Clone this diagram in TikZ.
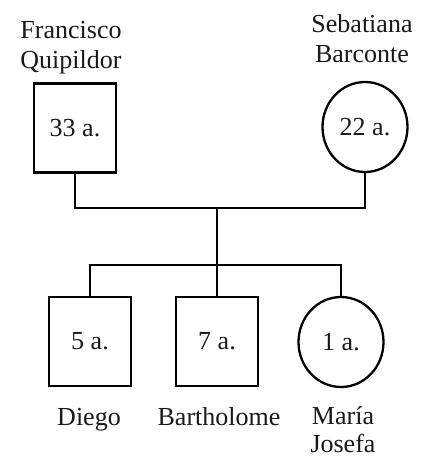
\documentclass[tikz,border=0pt]{standalone}
\usepackage{fontspec}
\setmainfont{Liberation Serif}
\usetikzlibrary{shapes.geometric}
\begin{document}
\begin{tikzpicture}[x=1pt,y=-1pt,
  line width=2.3pt,
  txt/.style={font=\fontsize{26}{30}\selectfont, text=black!90, inner sep=0pt, align=center},
  male/.style={draw, rectangle, minimum width=82pt, minimum height=89pt, inner sep=0pt, txt},
  female/.style={draw, ellipse, minimum width=85pt, minimum height=90pt, inner sep=0pt, txt},
  link/.style={line width=2.3pt}]
\useasboundingbox (0,0) rectangle (424,461);
\node[male] (F) at (75,128) {33 a.};
\node[female] (S) at (365,127) {22 a.};
\node[txt] (Fl) at (71,48) {Francisco\\Quipildor};
\node[txt] (Sl) at (362,39) {Sebatiana\\Barconte};
\node[male] (D) at (90,341.5) {5 a.};
\node[male] (B) at (217,341.5) {7 a.};
\node[female] (M) at (341,342) {1 a.};
\node[txt, anchor=base] (Dl) at (89,425) {Diego};
\node[txt, anchor=base] (Bl) at (219,425) {Bartholome};
\node[txt, font=\fontsize{26}{28}\selectfont, anchor=base] (Ml) at (343,452) {María\\Josefa};
\coordinate (J) at (217,208);
\coordinate (K) at (217,265);
\draw[link] (F.south) |- (J) -| (S.south);
\draw[link] (J) -- (K);
\draw[link] (D.north) |- (K) -| (M.north);
\draw[link] (K) -- (B.north);
\end{tikzpicture}
\end{document}
